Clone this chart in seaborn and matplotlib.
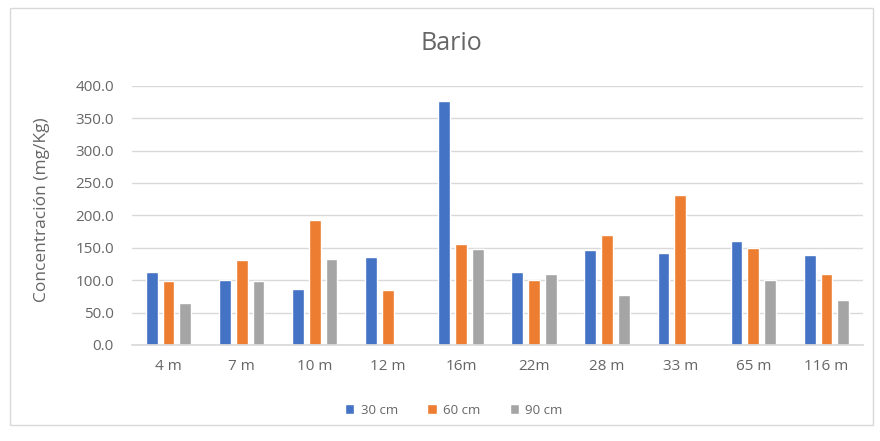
import matplotlib
matplotlib.use("Agg")
import matplotlib.pyplot as plt
from matplotlib.patches import Rectangle
from matplotlib.ticker import FuncFormatter
import seaborn as sns
import pandas as pd

# Barium concentration by distance and depth
distancias = ["4 m", "7 m", "10 m", "12 m", "16m", "22m", "28 m", "33 m", "65 m", "116 m"]
prof_30 = [112, 100, 86, 135, 377, 113, 146, 142, 160, 139]
prof_60 = [98, 131, 193, 85, 156, 100, 169, 232, 150, 109]
prof_90 = [65, 98, 132, None, 148, 110, 77, None, 100, 69]
series = ["30 cm", "60 cm", "90 cm"]

rows = []
for nombre, vals in zip(series, [prof_30, prof_60, prof_90]):
    for d, v in zip(distancias, vals):
        rows.append({"Distancia": d, "Profundidad": nombre, "Valor": v})
df = pd.DataFrame(rows)

sns.set_theme(style="white")
plt.rcParams["font.family"] = ["Open Sans", "DejaVu Sans"]

texto = "#666666"
colores = ["#4472C4", "#ED7D31", "#A5A5A5"]

fig = plt.figure(figsize=(8.8, 4.41), dpi=100)
fig.patch.set_facecolor("white")
fig.patches.append(Rectangle((10 / 880, 1 - 425 / 441), 863 / 880, 417 / 441,
                             transform=fig.transFigure, fill=False,
                             edgecolor="#D9D9D9", linewidth=1))

ax = fig.add_axes([132 / 880, 1 - 345 / 441, 731 / 880, 259.3 / 441])
sns.barplot(data=df, x="Distancia", y="Valor", hue="Profundidad",
            palette=colores, width=0.69, gap=0.3, ax=ax,
            saturation=1, legend=True, errorbar=None)

ax.set_ylim(0, 400)
ax.set_yticks(range(0, 401, 50))
ax.yaxis.set_major_formatter(FuncFormatter(lambda v, p: f"{v:.1f}"))
ax.grid(axis="y", color="#D9D9D9", linewidth=1)
ax.set_axisbelow(True)
for s in ["top", "right", "left"]:
    ax.spines[s].set_visible(False)
ax.spines["bottom"].set_color("#D9D9D9")
ax.tick_params(axis="y", length=0, labelsize=11, colors=texto, pad=13)
ax.tick_params(axis="x", length=0, labelsize=11, colors=texto, pad=10)
ax.set_xlabel("")
ax.set_ylabel("Concentración (mg/Kg)", fontsize=12.5, color=texto)
ax.yaxis.set_label_coords((50 - 132) / 731, (345 - 210) / 259.3)

fig.text(451 / 880, 1 - 44 / 441, "Bario", fontsize=18, color=texto,
         ha="center", va="center")

leg = ax.legend(loc="center", bbox_to_anchor=(454 / 880, 1 - 410 / 441),
                bbox_transform=fig.transFigure, ncol=3,
                frameon=False, fontsize=9.5, handlelength=0.7, handleheight=0.7,
                columnspacing=2.2, handletextpad=0.5)
for t in leg.get_texts():
    t.set_color(texto)

fig.savefig("out.png", dpi=100)
